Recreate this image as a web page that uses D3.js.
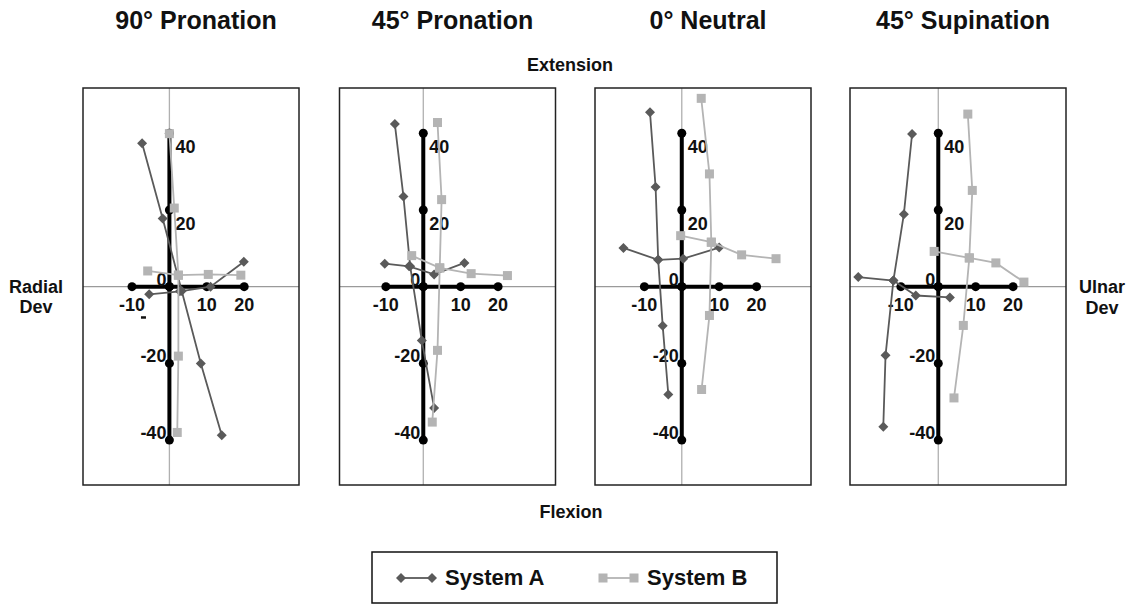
<!DOCTYPE html>
<html><head><meta charset="utf-8">
<script src="https://cdn.jsdelivr.net/npm/d3@7"></script>
<style>
html,body{margin:0;padding:0;background:#fff;}
text{font-family:"Liberation Sans",Arial,sans-serif;font-weight:bold;fill:#111;}
</style></head>
<body><svg id="chart" width="1128" height="605"></svg>
<script>
// ---------- data ----------
const panelTitles = ["90° Pronation", "45° Pronation", "0° Neutral", "45° Supination"];
const refXTicks = [-10, 0, 10, 20];
const refYTicks = [-40, -20, 0, 20, 40];
const xTickLabels = ["-10", "10", "20"];
const xTickValues = [-10, 10, 20];
const yTickPos = [40, 20];
const yTickNeg = [-20, -40];

// System A: flexion/extension trace (points x = radial/ulnar dev, y = flex/ext), per panel
const sysA_FE = [
  [[-7.3, 37.4], [-1.8, 17.8], [3.3, -1.1], [8.4, -20], [14, -38.7]],
  [[-7.6, 42.4], [-5.3, 23.5], [-3.5, 5.3], [-0.4, -14], [2.9, -31.6]],
  [[-8.5, 45.5], [-7, 26], [-6.3, 7], [-5.1, -10.2], [-3.6, -28.1]],
  [[-7, 39.8], [-9.2, 18.9], [-12, 1.6], [-14.1, -17.9], [-14.7, -36.5]]
];
// System A: radial/ulnar deviation trace
const sysA_RU = [
  [[-5.4, -2], [2.8, -1.2], [11, 0], [19.9, 6.5]],
  [[-10.3, 6], [-3.8, 5.3], [2.9, 3.2], [11, 6.2]],
  [[-15.6, 10.1], [-6.3, 7], [0.4, 7.3], [10, 10.2]],
  [[-21.4, 2.5], [-12, 1.6], [-6, -2.3], [3.1, -2.8]]
];
// System B: flexion/extension trace
const sysB_FE = [
  [[0, 39.9], [1.3, 20.5], [2.4, 3], [2.4, -18.1], [2.1, -38]],
  [[3.8, 42.8], [4.9, 22.7], [4.4, 4.9], [3.8, -16.6], [2.4, -35.3]],
  [[5.2, 49.1], [7.4, 29.4], [7.9, 11.6], [7.4, -7.5], [5.3, -26.8]],
  [[7.9, 45], [9.1, 25.1], [8.3, 7.5], [6.7, -10.1], [4.2, -29]]
];
// System B: radial/ulnar deviation trace
const sysB_RU = [
  [[-5.8, 4.1], [2.4, 3], [10.4, 3.2], [19.1, 3]],
  [[-3.1, 8.1], [4.4, 4.9], [12.8, 3.4], [22.5, 2.9]],
  [[-0.3, 13.3], [7.9, 11.6], [16, 8.3], [25.2, 7.3]],
  [[-1.1, 9.2], [8.3, 7.5], [15.4, 6.2], [22.9, 1.2]]
];
const xDomainMin = [-23.1, -22.4, -23.2, -23.6];
const legendLabels = ["System A", "System B"];

// ---------- layout ----------
const svg = d3.select("#chart");
const panelLeft = [83, 339.5, 595, 850];
const panelW = 216, panelTop = 88, panelH = 397;
const xSpan = 57.75;
const yDomain = [-51.7, 51.8];
const colA = "#5a5a5a", colB = "#b4b4b4";

function diamondPath(s){ return `M0,${-s}L${s},0L0,${s}L${-s},0Z`; }

panelTitles.forEach((title, i) => {
  const x = d3.scaleLinear().domain([xDomainMin[i], xDomainMin[i] + xSpan]).range([panelLeft[i], panelLeft[i] + panelW]);
  const y = d3.scaleLinear().domain(yDomain).range([panelTop + panelH, panelTop]);
  const g = svg.append("g");

  // title
  svg.append("text").attr("x", panelLeft[i] + panelW / 2 + 5).attr("y", 29)
    .attr("text-anchor", "middle").style("font-size", "25px").text(title);

  // gray axes through origin
  g.append("line").attr("x1", panelLeft[i]).attr("x2", panelLeft[i] + panelW)
    .attr("y1", y(0)).attr("y2", y(0)).attr("stroke", "#9a9a9a").attr("stroke-width", 1.3);
  g.append("line").attr("x1", x(0)).attr("x2", x(0))
    .attr("y1", panelTop).attr("y2", panelTop + panelH).attr("stroke", "#b0b0b0").attr("stroke-width", 1.3);

  // black reference cross
  const ext = [d3.min(refXTicks), d3.max(refXTicks)];
  g.append("line").attr("x1", x(ext[0])).attr("x2", x(ext[1])).attr("y1", y(0)).attr("y2", y(0))
    .attr("stroke", "#000").attr("stroke-width", 4);
  const eyt = [d3.min(refYTicks), d3.max(refYTicks)];
  g.append("line").attr("x1", x(0)).attr("x2", x(0)).attr("y1", y(eyt[0])).attr("y2", y(eyt[1]))
    .attr("stroke", "#000").attr("stroke-width", 4);
  g.selectAll(".rx").data(refXTicks).enter().append("circle")
    .attr("cx", d => x(d)).attr("cy", y(0)).attr("r", 4.5).attr("fill", "#000");
  g.selectAll(".ry").data(refYTicks).enter().append("circle")
    .attr("cx", x(0)).attr("cy", d => y(d)).attr("r", 4.5).attr("fill", "#000");

  // tick labels
  g.selectAll(".xl").data(xTickValues).enter().append("text")
    .attr("x", d => x(d)).attr("y", y(0) + 24.5).attr("text-anchor", "middle")
    .style("font-size", "18px").text((d, k) => xTickLabels[k]);
  g.append("text").attr("x", x(0) - 3).attr("y", y(0) - 0.5).attr("text-anchor", "end")
    .style("font-size", "18px").text("0");
  g.selectAll(".yp").data(yTickPos).enter().append("text")
    .attr("x", x(0) + 6).attr("y", d => y(d) + 20).attr("text-anchor", "start")
    .style("font-size", "18px").text(d => d);
  g.selectAll(".yn").data(yTickNeg).enter().append("text")
    .attr("x", x(0) - 3).attr("y", d => y(d) - 1).attr("text-anchor", "end")
    .style("font-size", "18px").text(d => d);
  if (i === 0) {
    // small stray dash mark under "-10" seen in the reference
    g.append("rect").attr("x", x(-7.6)).attr("y", y(-7.7)).attr("width", 5).attr("height", 2.5).attr("fill", "#111");
  }

  const line = d3.line().x(d => x(d[0])).y(d => y(d[1]));
  // System A
  [sysA_FE[i], sysA_RU[i]].forEach(pts => {
    g.append("path").attr("d", line(pts)).attr("fill", "none").attr("stroke", colA).attr("stroke-width", 1.8);
  });
  [sysA_FE[i], sysA_RU[i]].forEach(pts => {
    g.selectAll(null).data(pts).enter().append("path")
      .attr("d", diamondPath(5)).attr("transform", d => `translate(${x(d[0])},${y(d[1])})`)
      .attr("fill", colA);
  });
  // System B
  [sysB_FE[i], sysB_RU[i]].forEach(pts => {
    g.append("path").attr("d", line(pts)).attr("fill", "none").attr("stroke", colB).attr("stroke-width", 1.8);
  });
  [sysB_FE[i], sysB_RU[i]].forEach(pts => {
    g.selectAll(null).data(pts).enter().append("rect")
      .attr("x", d => x(d[0]) - 4.5).attr("y", d => y(d[1]) - 4.5).attr("width", 9).attr("height", 9)
      .attr("fill", colB);
  });

  // frame
  g.append("rect").attr("x", panelLeft[i]).attr("y", panelTop).attr("width", panelW).attr("height", panelH)
    .attr("fill", "none").attr("stroke", "#222").attr("stroke-width", 1.5);
});

// axis titles
svg.append("text").attr("x", 570).attr("y", 70.5).attr("text-anchor", "middle").style("font-size", "18px").text("Extension");
svg.append("text").attr("x", 571).attr("y", 518).attr("text-anchor", "middle").style("font-size", "18px").text("Flexion");
svg.append("text").attr("x", 36).attr("y", 293).attr("text-anchor", "middle").style("font-size", "18px").text("Radial");
svg.append("text").attr("x", 36).attr("y", 312.5).attr("text-anchor", "middle").style("font-size", "18px").text("Dev");
svg.append("text").attr("x", 1102).attr("y", 293).attr("text-anchor", "middle").style("font-size", "18px").text("Ulnar");
svg.append("text").attr("x", 1102).attr("y", 313.5).attr("text-anchor", "middle").style("font-size", "18px").text("Dev");

// legend
const lg = svg.append("g");
lg.append("rect").attr("x", 372).attr("y", 552).attr("width", 405).attr("height", 51)
  .attr("fill", "none").attr("stroke", "#111").attr("stroke-width", 1.5);
const legX = [401, 603];
legendLabels.forEach((lab, k) => {
  const col = k === 0 ? colA : colB;
  lg.append("line").attr("x1", legX[k]).attr("x2", legX[k] + 31).attr("y1", 578).attr("y2", 578)
    .attr("stroke", col).attr("stroke-width", 1.8);
  [legX[k], legX[k] + 31].forEach(cx => {
    if (k === 0) lg.append("path").attr("d", diamondPath(5)).attr("transform", `translate(${cx},578)`).attr("fill", col);
    else lg.append("rect").attr("x", cx - 4.5).attr("y", 573.5).attr("width", 9).attr("height", 9).attr("fill", col);
  });
  lg.append("text").attr("x", k === 0 ? 445 : 647).attr("y", 585).style("font-size", "22px").text(lab);
});
</script></body></html>
